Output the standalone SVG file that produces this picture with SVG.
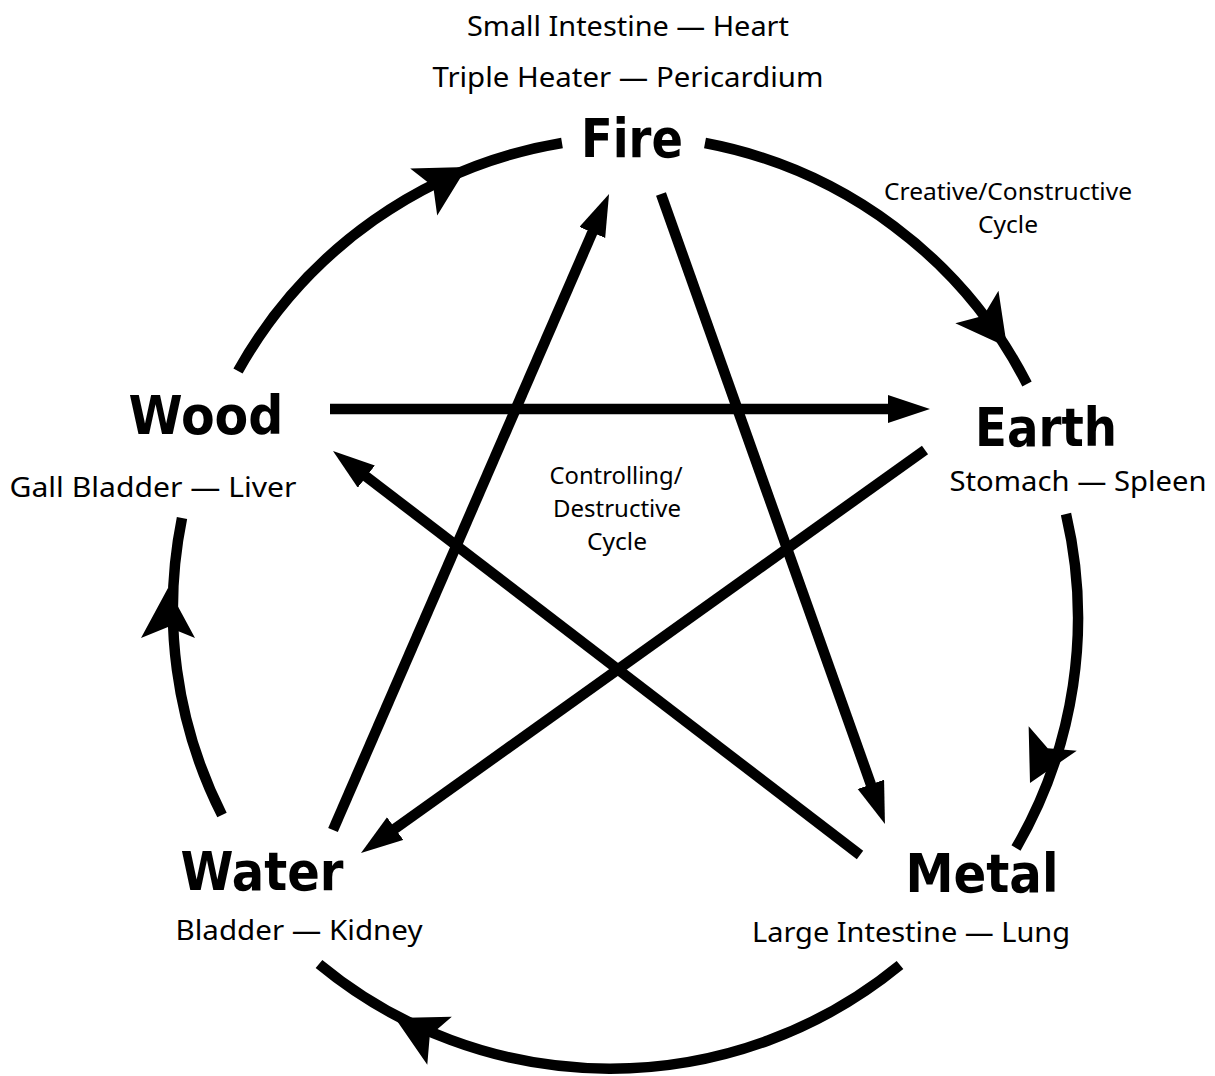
<svg xmlns="http://www.w3.org/2000/svg" xmlns:xlink="http://www.w3.org/1999/xlink" width="1215" height="1076" viewBox="0 0 1215 1076">
<style>
.arc{fill:none;stroke:#000;stroke-width:10.5;stroke-linecap:butt}
.ln{fill:none;stroke:#000;stroke-width:10.5;stroke-linecap:butt}
.title{font-family:"DejaVu Sans",sans-serif;font-weight:bold;font-size:54px;fill:#000;text-anchor:middle}
.sub{font-family:"Noto Sans","Open Sans",sans-serif;font-size:28px;fill:#000;text-anchor:middle}
.small{font-family:"Noto Sans","Open Sans",sans-serif;font-size:23px;fill:#000;text-anchor:middle}
</style>
<defs>
<path id="barb" d="M0,0 L-50,-27 L-39,0 L-50,27 Z" fill="#000"/>
<marker id="tri" markerUnits="userSpaceOnUse" markerWidth="44" markerHeight="30" refX="12" refY="14" orient="auto">
<path d="M0,0 L42,14 L0,28 Z" fill="#000"/>
</marker>
</defs>
<rect width="1215" height="1076" fill="#fff"/>
<g id="connectors">
<path class="arc" d="M238,371 A457,457 0 0 1 562,143"/>
<use xlink:href="#barb" href="#barb" transform="translate(467,167) rotate(-30)"/>
<path class="arc" d="M705,143 A457,457 0 0 1 1027,384"/>
<use xlink:href="#barb" href="#barb" transform="translate(1007,347) rotate(53)"/>
<path class="arc" d="M1066,514 A457,457 0 0 1 1016,848"/>
<use xlink:href="#barb" href="#barb" transform="translate(1030,783) rotate(117)"/>
<path class="arc" d="M900,965 A457,457 0 0 1 319,964"/>
<use xlink:href="#barb" href="#barb" transform="translate(395,1018) rotate(-153)"/>
<path class="arc" d="M222,815 A457,457 0 0 1 182,518"/>
<use xlink:href="#barb" href="#barb" transform="translate(168,588) rotate(-90)"/>
<path class="ln" d="M330,409 L900,409" marker-end="url(#tri)"/>
<path class="ln" d="M925,450 L385.4,835.6" marker-end="url(#tri)"/>
<path class="ln" d="M333,830 L597.1,221.5" marker-end="url(#tri)"/>
<path class="ln" d="M661,194 L874.9,795.7" marker-end="url(#tri)"/>
<path class="ln" d="M860,855 L356.8,469.3" marker-end="url(#tri)"/>
</g>
<g id="fire">
<text class="sub" x="628" y="36" textLength="322" lengthAdjust="spacingAndGlyphs">Small Intestine — Heart</text>
<text class="sub" x="628" y="87" textLength="391" lengthAdjust="spacingAndGlyphs">Triple Heater — Pericardium</text>
<text class="title" x="632" y="157" textLength="102" lengthAdjust="spacingAndGlyphs">Fire</text>
</g>
<g id="creative-label">
<text class="small" x="1008" y="200" textLength="248" lengthAdjust="spacingAndGlyphs">Creative/Constructive</text>
<text class="small" x="1008" y="233" textLength="60" lengthAdjust="spacingAndGlyphs">Cycle</text>
</g>
<g id="wood">
<text class="title" x="206" y="434" textLength="155" lengthAdjust="spacingAndGlyphs">Wood</text>
<text class="sub" x="153" y="497" textLength="287" lengthAdjust="spacingAndGlyphs">Gall Bladder — Liver</text>
</g>
<g id="earth">
<text class="title" x="1046" y="446" textLength="142" lengthAdjust="spacingAndGlyphs">Earth</text>
<text class="sub" x="1078" y="491" textLength="257" lengthAdjust="spacingAndGlyphs">Stomach — Spleen</text>
</g>
<g id="controlling-label">
<text class="small" x="616" y="484" textLength="133" lengthAdjust="spacingAndGlyphs">Controlling/</text>
<text class="small" x="617" y="517" textLength="128" lengthAdjust="spacingAndGlyphs">Destructive</text>
<text class="small" x="617" y="550" textLength="60" lengthAdjust="spacingAndGlyphs">Cycle</text>
</g>
<g id="water">
<text class="title" x="262" y="890" textLength="163" lengthAdjust="spacingAndGlyphs">Water</text>
<text class="sub" x="299" y="940" textLength="247" lengthAdjust="spacingAndGlyphs">Bladder — Kidney</text>
</g>
<g id="metal">
<text class="title" x="982" y="892" textLength="153" lengthAdjust="spacingAndGlyphs">Metal</text>
<text class="sub" x="911" y="942" textLength="318" lengthAdjust="spacingAndGlyphs">Large Intestine — Lung</text>
</g>
</svg>
